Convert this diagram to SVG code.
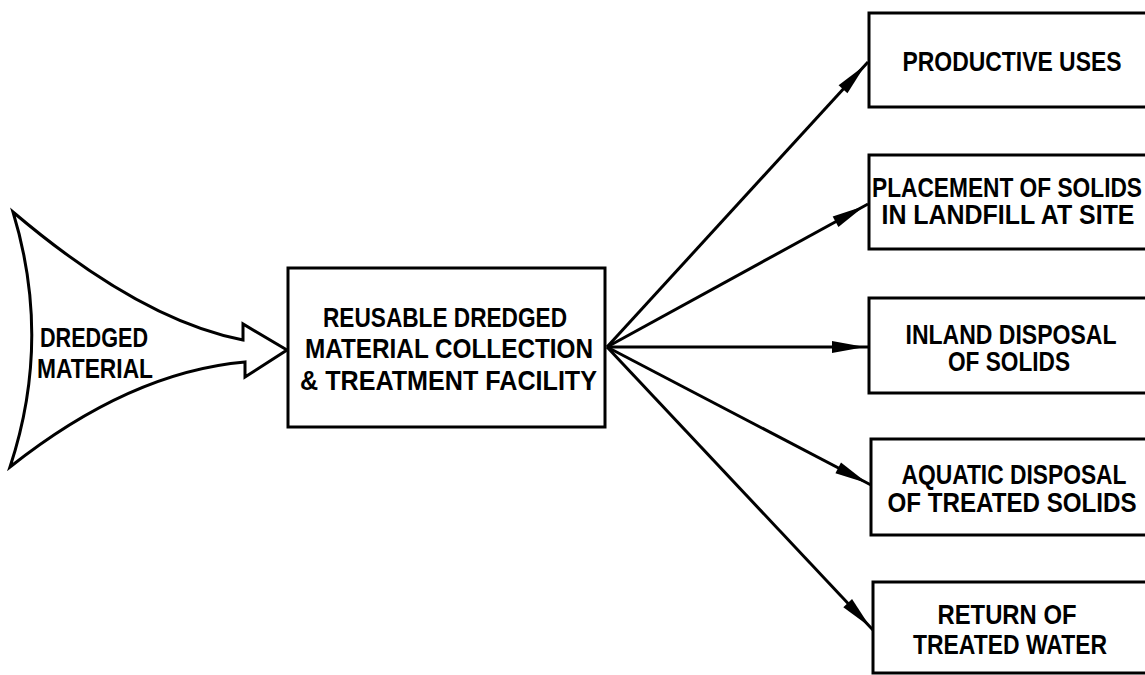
<svg xmlns="http://www.w3.org/2000/svg" width="1145" height="675" viewBox="0 0 1145 675">
<style>
.box{fill:#fff;stroke:#000;stroke-width:3}
.lbl{font-family:"Liberation Sans",Arial,sans-serif;font-weight:bold;font-size:28px;fill:#000;text-anchor:middle}
.con{stroke:#000;stroke-width:3;fill:none;marker-end:url(#ah)}
</style>
<defs>
<marker id="ah" markerUnits="userSpaceOnUse" markerWidth="40" markerHeight="14" refX="37" refY="6" orient="auto" overflow="visible">
<path d="M0,0 L33,6 L0,12 Z" fill="#000"/>
</marker>
</defs>
<rect width="1145" height="675" fill="#fff"/>
<g id="connectors">
<line class="con" x1="607" y1="347" x2="868" y2="62"/>
<line class="con" x1="607" y1="347" x2="868" y2="204"/>
<line class="con" x1="607" y1="347" x2="869" y2="347"/>
<line class="con" x1="607" y1="347" x2="871" y2="485"/>
<line class="con" x1="607" y1="347" x2="873" y2="630"/>
</g>
<g id="dredged-material">
<path d="M13,212 Q140,320 243,340 L243,324 L287,350 L245,377 L245,362 Q130,372 10,467 Q52,340 13,212 Z" fill="#fff" stroke="#000" stroke-width="3" stroke-linejoin="miter"/>
<text class="lbl" font-size="27" x="94" y="347" textLength="108" lengthAdjust="spacingAndGlyphs">DREDGED</text>
<text class="lbl" font-size="27" x="95" y="378" textLength="116" lengthAdjust="spacingAndGlyphs">MATERIAL</text>
</g>
<g id="facility">
<rect class="box" x="288" y="268" width="317" height="159"/>
<text class="lbl" font-size="29" x="445" y="327" textLength="244" lengthAdjust="spacingAndGlyphs">REUSABLE DREDGED</text>
<text class="lbl" font-size="29" x="449" y="358" textLength="288" lengthAdjust="spacingAndGlyphs">MATERIAL COLLECTION</text>
<text class="lbl" font-size="29" x="448.5" y="390" textLength="297" lengthAdjust="spacingAndGlyphs">&amp; TREATMENT FACILITY</text>
</g>
<g id="productive-uses">
<rect class="box" x="869" y="13" width="290" height="94"/>
<text class="lbl" x="1012" y="71" textLength="219" lengthAdjust="spacingAndGlyphs">PRODUCTIVE USES</text>
</g>
<g id="placement">
<rect class="box" x="869" y="155" width="290" height="94"/>
<text class="lbl" x="1007" y="197" textLength="270" lengthAdjust="spacingAndGlyphs">PLACEMENT OF SOLIDS</text>
<text class="lbl" x="1008" y="224" textLength="253" lengthAdjust="spacingAndGlyphs">IN LANDFILL AT SITE</text>
</g>
<g id="inland">
<rect class="box" x="869" y="298" width="290" height="95"/>
<text class="lbl" x="1011" y="344" textLength="211" lengthAdjust="spacingAndGlyphs">INLAND DISPOSAL</text>
<text class="lbl" x="1009" y="371" textLength="122" lengthAdjust="spacingAndGlyphs">OF SOLIDS</text>
</g>
<g id="aquatic">
<rect class="box" x="871" y="439" width="290" height="96"/>
<text class="lbl" x="1014" y="484" textLength="225" lengthAdjust="spacingAndGlyphs">AQUATIC DISPOSAL</text>
<text class="lbl" x="1012" y="512" textLength="249" lengthAdjust="spacingAndGlyphs">OF TREATED SOLIDS</text>
</g>
<g id="return-water">
<rect class="box" x="873" y="582" width="290" height="91"/>
<text class="lbl" x="1007" y="624" textLength="139" lengthAdjust="spacingAndGlyphs">RETURN OF</text>
<text class="lbl" x="1010" y="654" textLength="194" lengthAdjust="spacingAndGlyphs">TREATED WATER</text>
</g>
</svg>
